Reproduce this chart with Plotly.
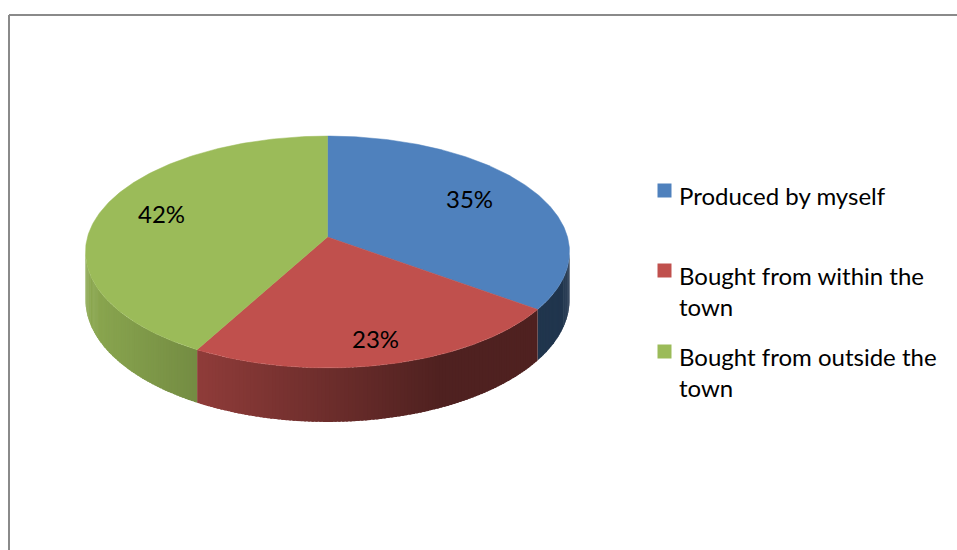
import textwrap
import numpy as np
import plotly.graph_objects as go

# ---- data -------------------------------------------------------------
categories = ["Produced by myself",
              "Bought from within the town",
              "Bought from outside the town"]
shares = [35, 23, 42]                       # percent
colors = ["#4f81bd", "#c0504d", "#9bbb59"]

# ---- drawing parameters ------------------------------------------------
W, H = 957, 550
CX, CY = 327.5, 237.0        # apex of the pie on screen
RX, RY, PERSP = 240.0, 114.0, 0.1293
DEPTH = 47.0                  # thickness of the disc
LABEL_R = [0.70, 0.85, 0.72]  # radial position of each percentage label
FONT = "Lato"
FSIZE = 24


def project(alpha_deg, r=1.0):
    """Clockwise angle from the far side of the disc -> screen position."""
    a = np.radians(alpha_deg)
    x, y = r * np.sin(a), r * np.cos(a)
    w = 1.0 + PERSP * y
    return CX + RX * x / w, CY - RY * y / w, w


def hex_rgb(h):
    h = h.lstrip("#")
    return np.array([int(h[i:i + 2], 16) for i in (0, 2, 4)], dtype=float)


def shade(col, X):
    f = 0.90 - 0.49 * np.clip((X - 84.0) / (440.0 - 84.0), 0.0, 1.0)
    r, g, b = (hex_rgb(col) * f).round().astype(int)
    return f"rgb({r},{g},{b})"


fig = go.Figure()

total = float(sum(shares))
bounds = np.concatenate([[0.0], np.cumsum(shares) / total * 360.0])
vis_lo = np.degrees(np.arccos(-PERSP))
vis_hi = 360.0 - vis_lo

# side wall of the disc, built from thin shaded strips that overlap
# slightly so no seams show between them
for i, col in enumerate(colors):
    s, e = max(bounds[i], vis_lo), min(bounds[i + 1], vis_hi)
    if e <= s:
        continue
    n = max(2, int(np.ceil((e - s) / 0.8)))
    angs = np.linspace(s, e, n + 1)
    step = angs[1] - angs[0]
    for j, (a0, a1) in enumerate(zip(angs[:-1], angs[1:])):
        a0x = max(s, a0 - 0.6 * step) if j > 0 else a0
        seg = np.linspace(a0x, a1, 4)
        xs, ys, ws = project(seg)
        xm = 0.5 * (project(a0)[0] + project(a1)[0])
        c = shade(col, xm)
        fig.add_trace(go.Scatter(
            x=np.concatenate([xs, xs[::-1], xs[:1]]),
            y=np.concatenate([ys, (ys + DEPTH / ws)[::-1], ys[:1]]),
            mode="lines", fill="toself", fillcolor=c,
            line=dict(width=0),
            hoverinfo="skip", showlegend=False))

# top faces
for i, col in enumerate(colors):
    angs = np.linspace(bounds[i], bounds[i + 1], 200)
    xs, ys, _ = project(angs)
    fig.add_trace(go.Scatter(
        x=np.concatenate([[CX], xs, [CX]]),
        y=np.concatenate([[CY], ys, [CY]]),
        mode="lines", fill="toself", fillcolor=col,
        line=dict(color=col, width=0.5),
        hoverinfo="skip", showlegend=False))

# percentage labels
for i, v in enumerate(shares):
    mid = 0.5 * (bounds[i] + bounds[i + 1])
    lx, ly, _ = project(mid, LABEL_R[i])
    fig.add_annotation(x=lx - 2, y=ly - 4, text=f"{v}%", showarrow=False,
                       font=dict(family=FONT, size=FSIZE, color="black"),
                       xanchor="center", yanchor="middle")

# legend
LEG_X = 677
LEG_TOP = [179, 259, 340]
for i, (name, col) in enumerate(zip(categories, colors)):
    text = "<br>".join(textwrap.wrap(name, 23))
    fig.add_annotation(x=LEG_X, y=LEG_TOP[i], text=text, showarrow=False,
                       xanchor="left", yanchor="top", align="left",
                       font=dict(family=FONT, size=FSIZE, color="black"))
    fig.add_trace(go.Scatter(
        x=[664.5], y=[LEG_TOP[i] + 11.5], mode="markers",
        marker=dict(symbol="square", size=14, color=col,
                    line=dict(width=0)),
        hoverinfo="skip", showlegend=False))

# chart frame
frame = dict(type="line", xref="x", yref="y",
             line=dict(color="#8a8a8a", width=2))
fig.add_shape(**frame, x0=9, y0=15, x1=W, y1=15)
fig.add_shape(**frame, x0=9, y0=15, x1=9, y1=H)

fig.update_layout(
    width=W, height=H,
    margin=dict(l=0, r=0, t=0, b=0),
    paper_bgcolor="white", plot_bgcolor="white",
    xaxis=dict(range=[0, W], visible=False, fixedrange=True),
    yaxis=dict(range=[H, 0], visible=False, fixedrange=True),
    showlegend=False,
)

fig.write_html("out.html")
